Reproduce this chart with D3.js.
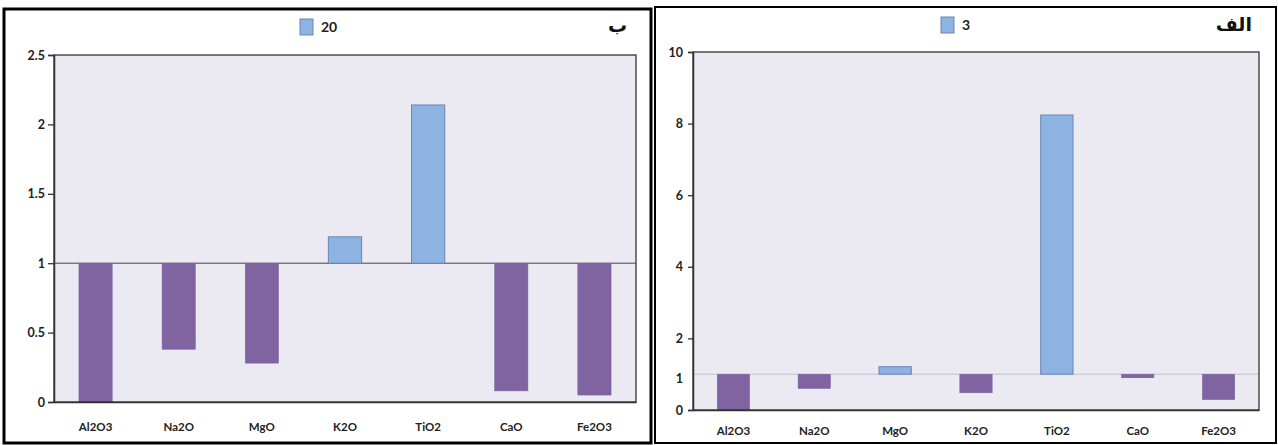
<!DOCTYPE html>
<html><head><meta charset="utf-8">
<script src="https://cdn.jsdelivr.net/npm/d3@7"></script>
<style>
body{margin:0;background:#fff;}
svg{display:block;}
.tick text{font-family:Lato,"Open Sans",sans-serif;font-weight:700;fill:#222;}
.yax .tick text{font-size:12.5px;}
.xax .tick text{font-size:11.5px;}
</style></head>
<body>
<script>
const categories = ["Al2O3","Na2O","MgO","K2O","TiO2","CaO","Fe2O3"];
const valuesB = [0.0, 0.38, 0.28, 1.19, 2.14, 0.08, 0.05];
const valuesAlef = [0.0, 0.6, 1.21, 0.48, 8.24, 0.9, 0.29];
const ticksB = [0, 0.5, 1, 1.5, 2, 2.5];
const ticksAlef = [0, 2, 4, 6, 8, 10];
const extraLabelAlef = [1];
const legendB = "20", legendAlef = "3";
const titleB = "ب", titleAlef = "الف";
const baseline = 1;

const W = 1278, H = 445;
const svg = d3.select("body").append("svg").attr("width", W).attr("height", H);

function panel(o){
  const g = svg.append("g");
  g.append("rect").attr("x", o.fx).attr("y", o.fy).attr("width", o.fw).attr("height", o.fh)
    .attr("fill","#fff").attr("stroke","#000").attr("stroke-width", o.fs);
  const x = d3.scaleBand().domain(categories).range([o.x0, o.x1]).paddingInner(0.6).paddingOuter(0.3);
  const y = d3.scaleLinear().domain([0, o.max]).range([o.y0, o.y1]);
  g.append("rect").attr("x", o.x0).attr("y", o.y1).attr("width", o.x1-o.x0).attr("height", o.y0-o.y1)
    .attr("fill","#ebe9f1");
  g.append("line").attr("x1", o.x0).attr("x2", o.x1).attr("y1", y(baseline)).attr("y2", y(baseline))
    .attr("stroke", o.baseColor).attr("stroke-width", 1);
  g.selectAll(".bar").data(o.values).join("rect")
    .attr("x", (d,i)=>x(categories[i]))
    .attr("width", x.bandwidth())
    .attr("y", d=>y(Math.max(d, baseline)))
    .attr("height", d=>Math.abs(y(d)-y(baseline)))
    .attr("fill", d=> d>=baseline ? "#8db3e2" : "#8064a2")
    .attr("stroke", d=> d>=baseline ? "#6c85b5" : "#7a5f9e")
    .attr("stroke-width", d=> d>=baseline ? 1 : 0.5);
  g.append("rect").attr("x", o.x0).attr("y", o.y1).attr("width", o.x1-o.x0).attr("height", o.y0-o.y1)
    .attr("fill","none").attr("stroke","#333").attr("stroke-width",1.3);
  const ya = g.append("g").attr("class","yax").attr("transform",`translate(${o.x0},0)`)
    .call(d3.axisLeft(y).tickValues(o.ticks).tickSize(o.tickSize).tickPadding(o.tickPad).tickFormat(d3.format("")));
  ya.select(".domain").attr("stroke","#333").attr("stroke-width",1.5);
  ya.selectAll(".tick line").attr("stroke","#333").attr("stroke-width",1.3);
  if (o.extra){
    ya.append("g").attr("class","tick").selectAll("text").data(o.extra).join("text")
      .attr("x", -(o.tickSize + o.tickPad)).attr("y", d=>y(d)+5).attr("dy","0.32em")
      .attr("text-anchor","end").text(d=>d);
  }
  const xa = g.append("g").attr("class","xax").attr("transform",`translate(0,${o.y0})`)
    .call(d3.axisBottom(x).tickSize(0).tickPadding(o.xPad));
  xa.select(".domain").attr("stroke","#333").attr("stroke-width",1.5);
  g.append("rect").attr("x", o.lx).attr("y", o.ly).attr("width", 13).attr("height", 16)
    .attr("fill","#8db3e2").attr("stroke","#6c85b5").attr("stroke-width",1);
  g.append("text").attr("x", o.lx+21).attr("y", o.ly+13)
    .attr("font-family","Lato,'Open Sans',sans-serif").attr("font-weight",700).attr("font-size",14)
    .attr("fill","#222").text(o.legend);
  g.append("text").attr("x", o.tx).attr("y", o.ty).attr("text-anchor","end")
    .attr("font-family","'Noto Sans','DejaVu Sans',sans-serif").attr("font-weight",700).attr("font-size",19)
    .attr("fill","#111").text(o.title);
}

panel({fx:4, fy:9, fw:647, fh:434, fs:3,
  x0:54, x1:636, y0:402, y1:55, max:2.5, values:valuesB, ticks:ticksB,
  tickSize:6, tickPad:3, xPad:21, baseColor:"#444",
  lx:300, ly:19, legend:legendB, tx:627, ty:32, title:titleB});

panel({fx:655, fy:7, fw:621, fh:436, fs:2,
  x0:693, x1:1259, y0:410, y1:52, max:10, values:valuesAlef, ticks:ticksAlef, extra:extraLabelAlef,
  tickSize:5, tickPad:5, xPad:17, baseColor:"#c3c2cc",
  lx:941, ly:17, legend:legendAlef, tx:1252, ty:31, title:titleAlef});
</script>
</body></html>
